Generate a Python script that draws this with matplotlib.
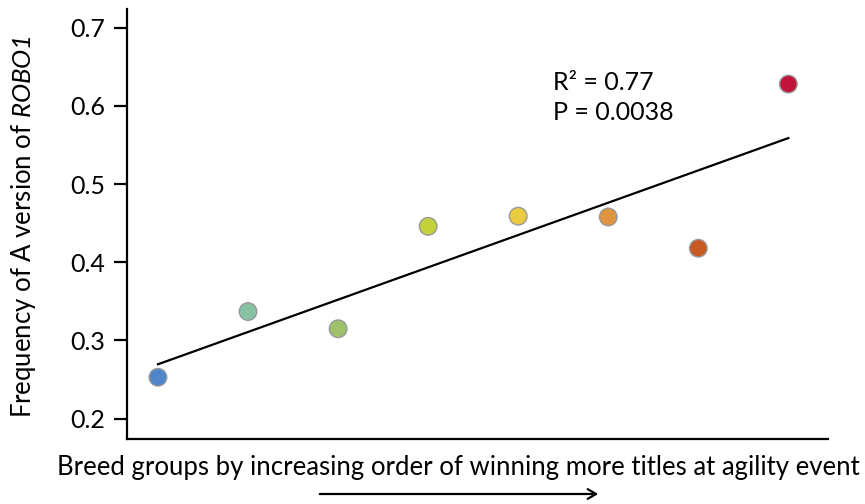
import numpy as np
import matplotlib
matplotlib.use("Agg")
import matplotlib.pyplot as plt
from matplotlib.patches import FancyArrowPatch

plt.rcParams['font.family'] = ['Lato', 'DejaVu Sans']
plt.rcParams['mathtext.fontset'] = 'custom'
plt.rcParams['mathtext.rm'] = 'Lato:italic'
plt.rcParams['mathtext.it'] = 'Lato:italic'

groups = [1, 2, 3, 4, 5, 6, 7, 8]
freq = [0.253, 0.337, 0.315, 0.446, 0.459, 0.458, 0.418, 0.628]
colors = ['#4f86c9', '#87c3a3', '#9dc26a', '#c3d23a', '#ebcc3e', '#df953f', '#c75a20', '#c1143b']
yticks = [0.2, 0.3, 0.4, 0.5, 0.6, 0.7]
ytick_labels = ['0.2', '0.3', '0.4', '0.5', '0.6', '0.7']
stats_text = ['R\u00b2 = 0.77', 'P = 0.0038']
xlabel = 'Breed groups by increasing order of winning more titles at agility event'
ylabel = 'Frequency of A version of $\\mathit{ROBO1}$'

fig = plt.figure(figsize=(8.65, 5.04), dpi=100)
ax = fig.add_axes([127/865, (504-439)/504, (828-127)/865, (439-9)/504])

slope, intercept = np.polyfit(groups, freq, 1)
xf = np.array([groups[0], groups[-1]])
ax.plot(xf, slope*xf + intercept, color='black', lw=1.6, zorder=2)

ax.scatter(groups, freq, s=160, c=colors, edgecolors='#999999', linewidths=1.0, zorder=3)

ax.set_xlim(0.656, 8.44)
ax.set_ylim(0.174, 0.724)
ax.set_yticks(yticks)
ax.set_yticklabels(ytick_labels)
ax.set_xticks([])
for s in ['top', 'right']:
    ax.spines[s].set_visible(False)
for s in ['left', 'bottom']:
    ax.spines[s].set_linewidth(1.6)
ax.tick_params(axis='y', length=9.4, width=1.6, pad=6, labelsize=18)

ax.set_ylabel(ylabel, fontsize=18.5)
ax.yaxis.set_label_coords((38-127)/701, 0.495)

fig.text(458/865, (504-467)/504, xlabel, ha='center', va='center', fontsize=18.5)

ax.text(553/865, (504-82)/504, stats_text[0], transform=fig.transFigure, ha='left', va='center', fontsize=18)
ax.text(553/865, (504-112)/504, stats_text[1], transform=fig.transFigure, ha='left', va='center', fontsize=18)

arrow = FancyArrowPatch((317/865, (504-494)/504), (601/865, (504-494)/504), transform=fig.transFigure,
                        arrowstyle='->,head_length=6,head_width=3.5', lw=1.6, color='black', mutation_scale=1)
fig.add_artist(arrow)

fig.savefig('out.png', dpi=100)
